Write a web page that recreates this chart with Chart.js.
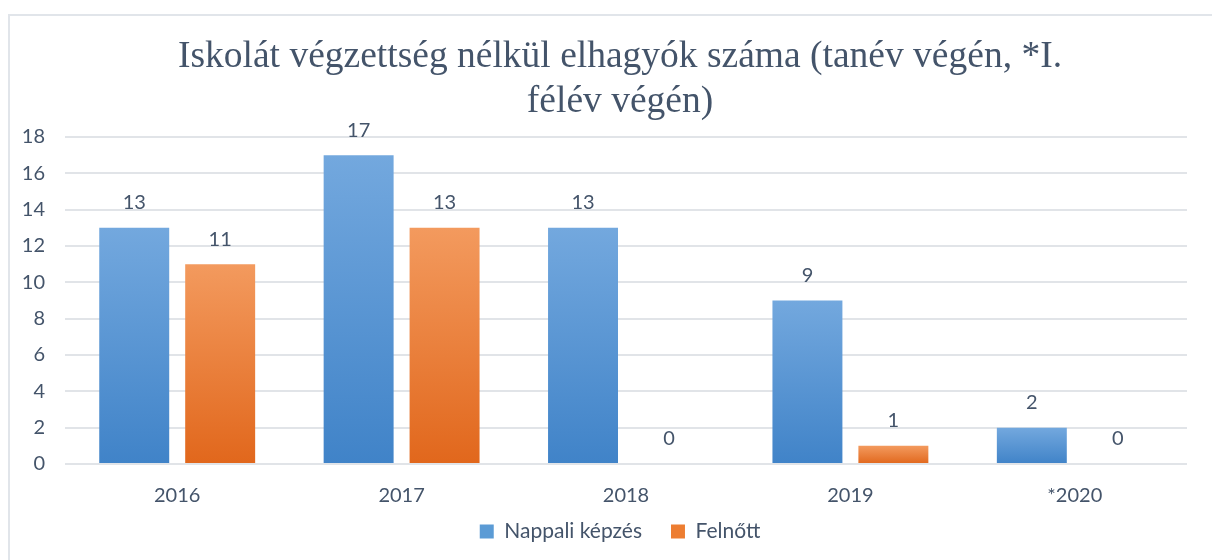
<!DOCTYPE html>
<html>
<head>
<meta charset="utf-8">
<script src="https://cdn.jsdelivr.net/npm/chart.js@4/dist/chart.umd.min.js"></script>
<style>
  html, body { margin: 0; padding: 0; background: #fff; }
  body { width: 1212px; height: 560px; overflow: hidden; position: relative; }
  #frame {
    position: absolute; left: 8px; top: 14px; width: 1300px; height: 600px;
    border: 2px solid #e1e5ea; box-sizing: border-box;
  }
  #wrap { position: absolute; left: 0; top: 0; width: 1218px; height: 560px; }
</style>
</head>
<body>
<div id="frame"></div>
<div id="wrap"><canvas id="chart" width="1218" height="560"></canvas></div>
<script>
const categories = ["2016", "2017", "2018", "2019", "*2020"];
const nappali = [13, 17, 13, 9, 2];
const felnott = [11, 13, 0, 1, 0];
const seriesNames = ["Nappali képzés", "Felnőtt"];
const yTicks = [0, 2, 4, 6, 8, 10, 12, 14, 16, 18];

const textColor = "#44546a";
const labelFont = "Lato, 'Open Sans', sans-serif";
const legendGap = 29;

// lighter at the top, darker at the bottom, per bar
function barGradient(top, bottom) {
  return (ctx) => {
    const chart = ctx.chart;
    if (!chart.chartArea || ctx.type !== "data") return bottom;
    const y = chart.scales.y;
    const yTop = y.getPixelForValue(ctx.raw);
    const yBase = y.getPixelForValue(0);
    if (yBase - yTop < 1) return bottom;
    const g = chart.ctx.createLinearGradient(0, yTop, 0, yBase);
    g.addColorStop(0, top);
    g.addColorStop(1, bottom);
    return g;
  };
}

const valueLabels = {
  id: "valueLabels",
  afterDatasetsDraw(chart) {
    const ctx = chart.ctx;
    ctx.save();
    ctx.font = "20px " + labelFont;
    ctx.fillStyle = textColor;
    ctx.textAlign = "center";
    ctx.textBaseline = "middle";
    chart.data.datasets.forEach((ds, i) => {
      chart.getDatasetMeta(i).data.forEach((bar, j) => {
        ctx.fillText(String(ds.data[j]), bar.x, bar.y - 25);
      });
    });
    ctx.restore();
  }
};

// legend padding is also the gap between items; pull the row back up
const legendNudge = {
  id: "legendNudge",
  afterLayout(chart) {
    const lg = chart.legend;
    if (!lg) return;
    lg.top -= legendGap - 1;
    lg.bottom -= legendGap - 1;
  }
};

new Chart(document.getElementById("chart").getContext("2d"), {
  type: "bar",
  data: {
    labels: categories,
    datasets: [
      {
        label: seriesNames[0],
        data: nappali,
        backgroundColor: barGradient("#73a8de", "#4083c8"),
        categoryPercentage: 0.766,
        barPercentage: 0.814
      },
      {
        label: seriesNames[1],
        data: felnott,
        backgroundColor: barGradient("#f39a5e", "#e1671c"),
        categoryPercentage: 0.766,
        barPercentage: 0.814
      }
    ]
  },
  options: {
    responsive: false,
    animation: false,
    layout: { padding: { left: 22, right: 0, top: 35, bottom: -20 } },
    plugins: {
      title: {
        display: true,
        text: ["Iskolát végzettség nélkül elhagyók száma (tanév végén, *I.", "félév végén)"],
        color: textColor,
        font: { family: "'Liberation Serif', serif", size: 37.5, weight: "normal", lineHeight: 1.2 },
        padding: { top: 0, bottom: 12 }
      },
      legend: {
        position: "bottom",
        labels: {
          color: textColor,
          font: { family: labelFont, size: 21 },
          boxWidth: 14,
          boxHeight: 14,
          padding: legendGap,
          generateLabels(chart) {
            return chart.data.datasets.map((ds, i) => ({
              text: ds.label,
              fillStyle: i === 0 ? "#5b9bd5" : "#ed7d31",
              strokeStyle: "rgba(0,0,0,0)",
              lineWidth: 0,
              fontColor: textColor,
              datasetIndex: i
            }));
          }
        }
      },
      tooltip: { enabled: false }
    },
    scales: {
      x: {
        grid: { display: false },
        border: { display: false },
        ticks: { color: textColor, font: { family: labelFont, size: 20 }, padding: 12 }
      },
      y: {
        min: 0,
        max: 18,
        afterBuildTicks(axis) { axis.ticks = yTicks.map(v => ({ value: v })); },
        afterFit(axis) { axis.width = 43; },
        grid: { color: "#e1e4e8", lineWidth: 2, drawTicks: false },
        border: { display: false },
        ticks: { color: textColor, font: { family: labelFont, size: 20 }, padding: 20 }
      },
      // empty strip on the right, keeps title and legend centred like the original
      yRight: {
        position: "right",
        min: 0,
        max: 18,
        grid: { display: false },
        border: { display: false },
        ticks: { display: false },
        afterFit(axis) { axis.width = 31; }
      }
    }
  },
  plugins: [valueLabels, legendNudge]
});
</script>
</body>
</html>
